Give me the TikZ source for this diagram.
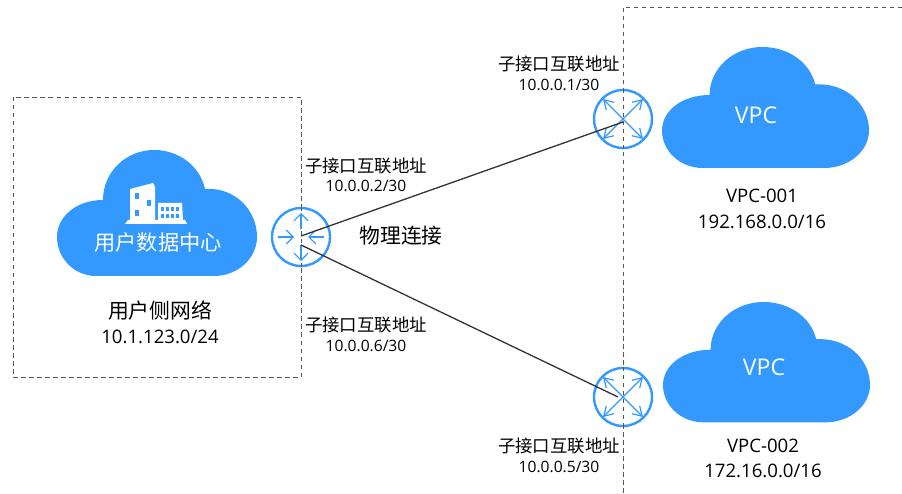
\documentclass[tikz,border=0pt]{standalone}
\usepackage{fontspec}
\setmainfont{Open Sans}
\newfontfamily\cjk{Noto Sans CJK SC}
\usetikzlibrary{arrows.meta}
\definecolor{cloudblue}{HTML}{3399FF}
\definecolor{dashgray}{HTML}{555555}
\definecolor{wirecol}{HTML}{333333}
\newcommand{\cloudpath}{(46,50) .. controls (46,22) and (69,0) .. (97,0) .. controls (122,0) and (143,16) .. (148,39) .. controls (178,37) and (200,60) .. (200,87) .. controls (200,108) and (181,126) .. (157,126) -- (39,126) .. controls (17,126) and (0,108) .. (0,87) .. controls (0,66) and (20,50) .. (46,50) -- cycle}
\tikzset{
  cloudfill/.style={fill=cloudblue,draw=none},
  zone/.style={draw=dashgray,line width=0.8pt,dash pattern=on 4.5pt off 3.5pt},
  wire/.style={draw=wirecol,line width=1.3pt},
  routerbody/.style={circle,draw=cloudblue,line width=2.4pt,fill=white,minimum size=58pt,inner sep=0pt},
  rarrow/.style={draw=cloudblue,line width=1.2pt,-{Straight Barb[length=7pt,width=14pt,line width=1.2pt]}},
  xarrow/.style={draw=cloudblue,line width=1.2pt,-{Straight Barb[length=9pt,width=11pt,line width=1.2pt]}},
  lab/.style={font=\cjk\fontsize{17.4}{20}\selectfont,text=black,inner sep=0pt},
  ipsmall/.style={font=\fontsize{15.6}{18}\selectfont,text=black,inner sep=0pt},
  cjkbig/.style={font=\cjk\fontsize{20.8}{24}\selectfont,text=black,inner sep=0pt},
  ipbig/.style={font=\fontsize{18.6}{22}\selectfont,text=black,inner sep=0pt},
  incloud/.style={font=\fontsize{23}{26}\selectfont,text=white,inner sep=0pt},
}
\begin{document}
\begin{tikzpicture}[x=1pt,y=-1pt]
\useasboundingbox (0,0) rectangle (902,494);
% zones
\draw[zone] (13,97) rectangle (301,377);
\draw[zone] (902,7) -- (623,7) -- (623,494);
% clouds
\begin{scope}[shift={(57,150)}]\fill[cloudfill] \cloudpath;\end{scope}
\begin{scope}[shift={(662,47)},yscale=0.96,xscale=1.035]\fill[cloudfill] \cloudpath;\end{scope}
\begin{scope}[shift={(663,302)},yscale=0.955,xscale=1.035]\fill[cloudfill] \cloudpath;\end{scope}
% building icon
\fill[white] (130,189) -- (153,183) -- (155,187) -- (155,220) -- (130,220) -- cycle;
\fill[white] (158,203) -- (182,203) -- (183,220) -- (158,220) -- cycle;
\fill[white] (128,220) -- (185,220) -- (187,224) -- (125,224) -- cycle;
\fill[cloudblue] (135,193) rectangle (139,199);
\fill[cloudblue] (135,210) rectangle (139,216);
\fill[cloudblue] (147,200) rectangle (151,206);
\foreach \xx in {161,166,171,176}{
  \fill[cloudblue] (\xx,207) rectangle ++(2.8,4);
  \fill[cloudblue] (\xx,214) rectangle ++(2.8,4);
}
% routers
\node[routerbody] (rl) at (301,237) {};
\node[routerbody] (ra) at (623,119) {};
\node[routerbody] (rb) at (623,397) {};
% router glyphs
\draw[zone] (rl.north) -- (rl.south);
\draw[zone] (ra.north) -- (ra.south);
\draw[zone] (rb.north) -- (rb.south);
\foreach \rr in {rl}{
  \draw[rarrow] ([xshift=-23pt]\rr.center) -- ([xshift=-7pt]\rr.center);
  \draw[rarrow] ([xshift=23pt]\rr.center) -- ([xshift=7pt]\rr.center);
  \draw[rarrow] ([yshift=8pt]\rr.center) -- ([yshift=24pt]\rr.center);
  \draw[rarrow] ([yshift=-8pt]\rr.center) -- ([yshift=-24pt]\rr.center);
}
\foreach \rr in {ra,rb}{
  \draw[xarrow] (\rr.center) -- ([shift={(-20pt,20pt)}]\rr.center);
  \draw[xarrow] (\rr.center) -- ([shift={(20pt,20pt)}]\rr.center);
  \draw[xarrow] (\rr.center) -- ([shift={(-20pt,-20pt)}]\rr.center);
  \draw[xarrow] (\rr.center) -- ([shift={(20pt,-20pt)}]\rr.center);
}
% connectors
\coordinate (wla) at (301,236);
\coordinate (wlb) at (301,245);
\coordinate (wa) at (623,122);
\coordinate (wb) at (618,397);
\draw[wire] (wla) -- (wa);
\draw[wire] (wlb) -- (wb);
% labels
\node[lab] (t1) at (559,64) {子接口互联地址};
\node[ipsmall] (i1) at (559,85) {10.0.0.1/30};
\node[lab] (t2) at (366,166) {子接口互联地址};
\node[ipsmall] (i2) at (366,186) {10.0.0.2/30};
\node[lab] (t3) at (366,325) {子接口互联地址};
\node[ipsmall] (i3) at (366,346) {10.0.0.6/30};
\node[lab] (t4) at (559,446) {子接口互联地址};
\node[ipsmall] (i4) at (559,467) {10.0.0.5/30};
\node[cjkbig] (phy) at (401,236) {物理连接};
\node[cjkbig] (u1) at (160,311) {用户侧网络};
\node[ipbig] (u2) at (160,337) {10.1.123.0/24};
\node[font=\cjk\fontsize{21.2}{24}\selectfont,text=white,inner sep=0pt] (dc) at (158,242) {用户数据中心};
\node[incloud] (v1) at (756,115) {VPC};
\node[incloud] (v2) at (764,367) {VPC};
\node[ipbig] (n1) at (762,196) {VPC-001};
\node[ipbig] (n1b) at (762,222) {192.168.0.0/16};
\node[ipbig] (n2) at (763,446) {VPC-002};
\node[ipbig] (n2b) at (763,471) {172.16.0.0/16};
\end{tikzpicture}
\end{document}
